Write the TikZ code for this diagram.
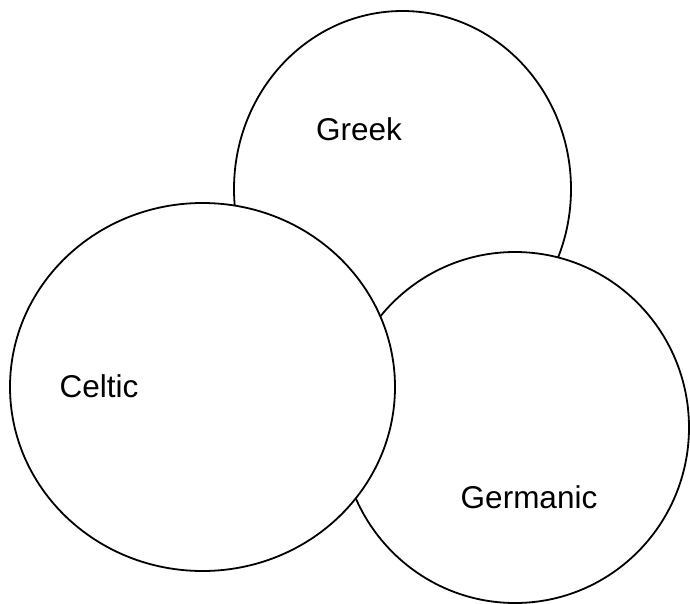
\documentclass[tikz,border=0pt]{standalone}
\usepackage{fontspec}
\setmainfont{Liberation Sans}
\usetikzlibrary{shapes.geometric}
\begin{document}
\begin{tikzpicture}[x=1pt,y=-1pt,
  set/.style={ellipse,draw=black,fill=white,line width=1.8pt,inner sep=0pt},
  lab/.style={anchor=base,inner sep=0pt,font=\fontsize{31.5}{36}\selectfont}]
\useasboundingbox (0,0) rectangle (690,604);
\node[set,minimum width=337pt,minimum height=356pt] (greek) at (402.5,189) {};
\node[set,minimum width=348pt,minimum height=351pt] (germanic) at (515,427.5) {};
\node[set,minimum width=385pt,minimum height=368pt] (celtic) at (202.5,387) {};
\node[lab] (tgreek) at (359,140.6) {Greek};
\node[lab] (tceltic) at (99,397) {Celtic};
\node[lab] (tgermanic) at (529,508.5) {Germanic};
\end{tikzpicture}
\end{document}
